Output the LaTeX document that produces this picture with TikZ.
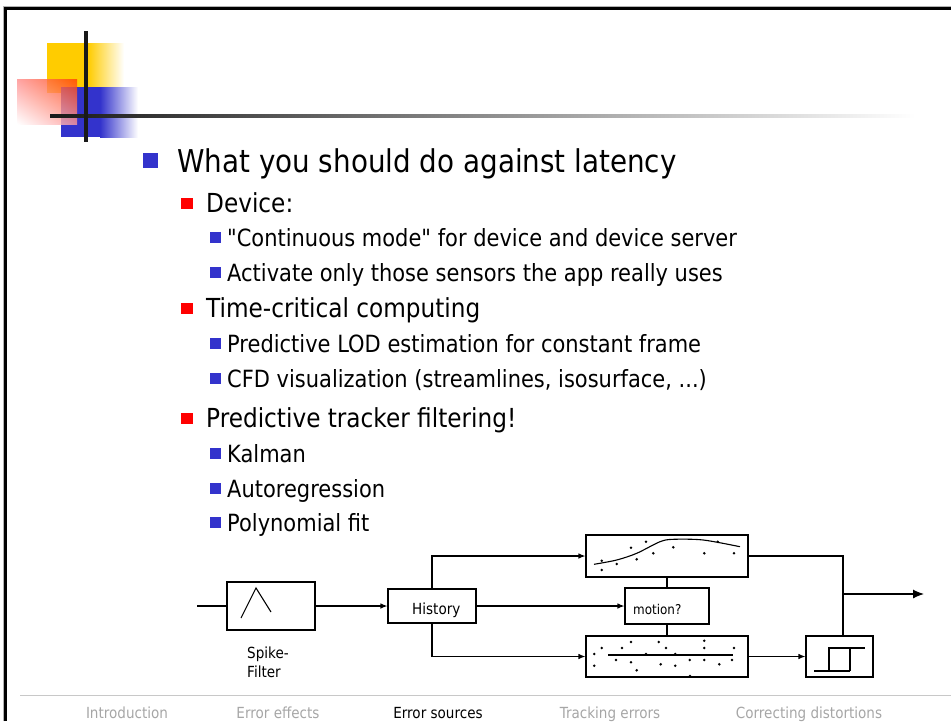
\documentclass[tikz,border=0pt]{standalone}
\usepackage{fontspec}
\setmainfont{DejaVu Sans}[FakeStretch=0.885, Ligatures=TeXOff]
\usepackage{tikz}
\usetikzlibrary{positioning,arrows.meta,calc,shadings}
\definecolor{slideBlue}{HTML}{3333CC}
\definecolor{slideRed}{HTML}{FF0000}
\definecolor{slideYellow}{HTML}{FFCC00}
\definecolor{slideOrange}{HTML}{FF4000}
\definecolor{navGray}{HTML}{A6A6A6}
\definecolor{ruleGray}{HTML}{C8C8C8}
\tikzset{
  itemA/.style={anchor=base west, inner sep=0pt, font=\fontsize{31.4}{36}\selectfont},
  itemB/.style={anchor=base west, inner sep=0pt, font=\fontsize{26.2}{30}\selectfont},
  itemC/.style={anchor=base west, inner sep=0pt, font=\fontsize{23.7}{28}\selectfont},
  navItem/.style={anchor=base, inner sep=0pt, font=\fontsize{15.3}{18}\selectfont, text=navGray},
  box/.style={draw, line width=1.1pt, inner sep=0pt},
  boxText/.style={anchor=base west, inner sep=0pt, font=\fontsize{15.3}{18}\selectfont},
  wire/.style={line width=1.1pt},
  arrow/.style={-{Latex[length=7pt, width=5.5pt]}, line width=1.1pt},
  bigArrow/.style={-{Latex[length=11pt, width=9pt]}, line width=1.1pt}
}

\begin{document}
\begin{tikzpicture}[x=1pt, y=-1pt]
  \useasboundingbox (0,0) rectangle (951,721);
  % slide frame
  \draw[gray!60, line width=1pt] (3.5,721) -- (3.5,6.3) -- (951,6.3);
  \draw[line width=2.7pt] (5.4,721) -- (5.4,8.7) -- (951,8.7);
  % logo
  \fill[slideYellow] (47,43) rectangle (88,93);
  \shade[left color=slideYellow, right color=white] (88,43) rectangle (124,93);
  \fill[slideBlue] (61,87) rectangle (100,137);
  \shade[left color=slideBlue, right color=white] (100,87) rectangle (138,137);
  \shade[upper right=slideOrange, upper left=red!45, lower right=red!40, lower left=white, opacity=0.8] (17,79) rectangle (77,124);
  \shade[left color=black!90, right color=white] (50,114.3) rectangle (915,117.8);
  \draw[line width=4pt, black!90] (86,31) -- (86,142);

  % bullet list
  \fill[slideBlue] (143,153) rectangle (158,168);
  \node[itemA] (title) at (177,172) {What you should do against latency};

  \fill[slideRed] (181,198) rectangle (193,209);
  \node[itemB] (device) at (206,212) {Device:};
  \fill[slideBlue] (210,232) rectangle (221,243);
  \node[itemC] (contMode) at (227,246) {"Continuous mode" for device and device server};
  \fill[slideBlue] (210,267) rectangle (221,278);
  \node[itemC] (activate) at (227,281) {Activate only those sensors the app really uses};

  \fill[slideRed] (181,303) rectangle (193,314);
  \node[itemB] (timeCrit) at (206,317) {Time-critical computing};
  \fill[slideBlue] (210,338) rectangle (221,349);
  \node[itemC] (lod) at (227,352) {Predictive LOD estimation for constant frame};
  \fill[slideBlue] (210,373) rectangle (221,384);
  \node[itemC] (cfd) at (227,387) {CFD visualization (streamlines, isosurface, ...)};

  \fill[slideRed] (181,413) rectangle (193,424);
  \node[itemB] (predict) at (206,427) {Predictive tracker filtering!};
  \fill[slideBlue] (210,448) rectangle (221,459);
  \node[itemC] (kalman) at (227,462) {Kalman};
  \fill[slideBlue] (210,483) rectangle (221,494);
  \node[itemC] (autoreg) at (227,497) {Autoregression};
  \fill[slideBlue] (210,517) rectangle (221,528);
  \node[itemC] (polyfit) at (227,531) {Polynomial fit};

  % filter chain
  \coordinate (src) at (197,606);
  \node[box, minimum width=88pt, minimum height=48pt] (spike) at (271,606) {};
  \draw[wire] (241,618) -- (256,588) -- (271,612);
  \node[boxText] (spikeTop) at (247,658) {Spike-};
  \node[boxText] (spikeBot) at (247,677) {Filter};
  \node[box, minimum width=88pt, minimum height=34pt] (hist) at (432,606) {};
  \node[boxText] (histText) at (412,614) {History};
  \node[box, minimum width=162pt, minimum height=42pt] (fitbox) at (667,556) {};
  \node[box, minimum width=84pt, minimum height=36pt] (motion) at (667,606) {};
  \node[boxText, font=\fontsize{13.5}{16}\selectfont] (motionText) at (633,614) {motion?};
  \node[box, minimum width=162pt, minimum height=41pt] (noise) at (667,656.5) {};
  \node[box, minimum width=67pt, minimum height=41pt] (hyst) at (839.5,656.5) {};
  \coordinate (bend) at (843,556);
  \coordinate (sink) at (924,594);

  % smooth fit
  \draw[wire] plot[smooth] coordinates {(594,564.3) (616.7,560) (636.7,553.3) (660,541.7) (673.3,539.3) (703.3,540) (740,546.7)};
  \foreach \p in {(601.7,560.7), (601.7,570), (616.7,564), (631,547.7), (636.7,559.3), (646,541.7),
                  (653.3,553.3), (673.3,547.3), (704.3,553.3), (717.7,541.7), (734,553.3)}
    \fill \p circle (1.4);
  % flat fit
  \draw[wire] (608.3,655) -- (732.7,655);
  \foreach \p in {(594.3,654), (601.7,648), (594.3,665.7), (616,660), (622,648), (631,642), (631,662.3),
                  (636.7,670.3), (646,654), (658.7,642), (660.7,664.3), (666,648), (675.3,654),
                  (675.3,665.7), (689.7,660), (690,676), (704.3,640.7), (704.3,648), (704.3,660),
                  (719.3,664.3), (732,660), (734,648)}
    \fill \p circle (1.4);
  % hysteresis
  \draw[wire] (814,671) -- (850,671);
  \draw[wire] (829,671) -- (829,648) -- (865,648);
  \draw[wire] (850,648) -- (850,671);

  \draw[wire] (src) -- (spike);
  \draw[arrow] (spike) -- (hist);
  \draw[arrow] (hist.north) |- (fitbox.west);
  \draw[arrow] (hist) -- (motion);
  \draw[arrow] (hist.south) |- (noise.west);
  \draw[wire] (fitbox) -- (motion);
  \draw[wire] (motion) -- (noise);
  \draw[arrow] (noise) -- (hyst);
  \draw[wire] (fitbox.east) -- (bend) -- (bend |- hyst.north);
  \draw[bigArrow] (bend |- sink) -- (sink);

  % navigation bar
  \draw[ruleGray, line width=1pt] (20,695) -- (951,695);
  \node[navItem] (navIntro) at (127,718) {Introduction};
  \node[navItem] (navEffects) at (278,718) {Error effects};
  \node[navItem, text=black] (navSources) at (438,718) {Error sources};
  \node[navItem] (navTracking) at (610,718) {Tracking errors};
  \node[navItem] (navCorrect) at (809,718) {Correcting distortions};
\end{tikzpicture}
\end{document}
